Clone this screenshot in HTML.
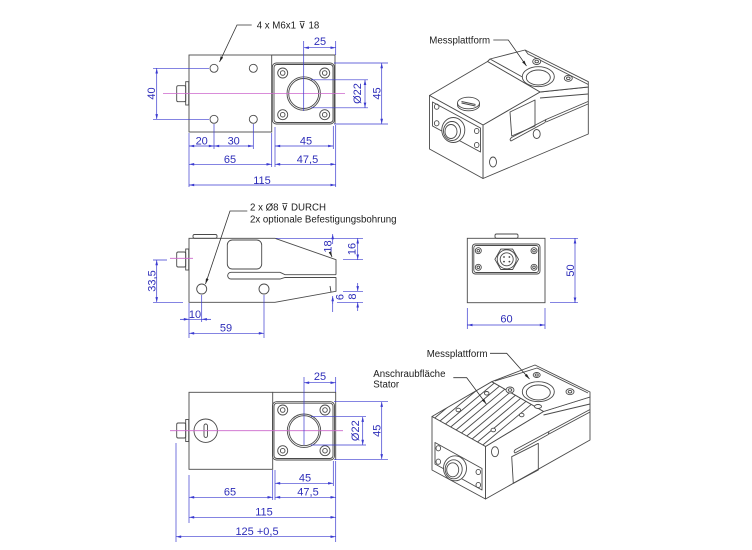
<!DOCTYPE html>
<html><head><meta charset="utf-8"><style>
html,body{margin:0;padding:0;background:#fff}
svg{display:block}
.b{stroke:#4a4a4a;stroke-width:.9;fill:none}
.bf{stroke:#4a4a4a;stroke-width:.9;fill:#fff}
.d{stroke:#3a3ad0;stroke-width:.7;fill:none}
.c{stroke:#cc66cc;stroke-width:.8;fill:none}
.t{font-family:"Liberation Sans",sans-serif;font-size:11px;fill:#2d2db8;text-anchor:middle}
.l{font-family:"Liberation Sans","DejaVu Sans",sans-serif;font-size:9.7px;fill:#1c1c1c}
.k{stroke:#333;stroke-width:.8;fill:none}
</style></head><body>
<svg width="752" height="550" viewBox="0 0 752 550" xmlns="http://www.w3.org/2000/svg">
<defs>
<marker id="ab" viewBox="0 0 8 4" refX="8" refY="2" markerWidth="6" markerHeight="2.6" markerUnits="userSpaceOnUse" orient="auto-start-reverse"><path d="M0,0L8,2L0,4z" fill="#3a3ad0"/></marker>
<marker id="ak" viewBox="0 0 8 4" refX="8" refY="2" markerWidth="6" markerHeight="2.8" markerUnits="userSpaceOnUse" orient="auto"><path d="M0,0L8,2L0,4z" fill="#222"/></marker>
<clipPath id="hc"><polygon points="432,416.5 491.7,381.7 543.5,411.5 485.5,446.5"/></clipPath>
</defs>

<!-- ===== VIEW 1 (top) ===== -->
<g class="b">
<rect x="189" y="55" width="82.7" height="77"/>
<path d="M271.7,55H335V124"/>
<rect x="272.3" y="63" width="62" height="61" rx="4"/>
<rect x="274" y="64.5" width="59" height="58" rx="3"/>
<rect x="176.7" y="85.7" width="9" height="16" rx="1.5"/>
<rect x="185.7" y="81.7" width="3" height="23.3"/>
<circle cx="214" cy="68.3" r="4"/><circle cx="253.3" cy="68.3" r="4"/>
<circle cx="214" cy="119.3" r="4"/><circle cx="253.3" cy="119.3" r="4"/>
<circle cx="282.7" cy="73" r="5"/><circle cx="282.7" cy="73" r="2.3"/>
<circle cx="324.7" cy="73" r="5"/><circle cx="324.7" cy="73" r="2.3"/>
<circle cx="282.7" cy="114.7" r="5"/><circle cx="282.7" cy="114.7" r="2.3"/>
<circle cx="324.7" cy="114.7" r="5"/><circle cx="324.7" cy="114.7" r="2.3"/>
<circle cx="303.7" cy="93.5" r="16.7"/><circle cx="303.7" cy="93.5" r="15"/>
</g>
<path class="c" d="M163,93.5H345"/>
<g class="d">
<path d="M153,68.3H209M153,119.3H209"/>
<path d="M156.7,68.3V119.3" marker-start="url(#ab)" marker-end="url(#ab)"/>
<path d="M303.7,41V111M335.7,41V55"/>
<path d="M303.7,47.7H335.7" marker-start="url(#ab)" marker-end="url(#ab)"/>
<path d="M311,79.8H368M311,107.8H368"/>
<path d="M365,79.8V107.8" marker-start="url(#ab)" marker-end="url(#ab)"/>
<path d="M334,63H388M334,124H388"/>
<path d="M381.7,63V124" marker-start="url(#ab)" marker-end="url(#ab)"/>
<path d="M189,133V187M214,124V149M253.3,124V149M271.7,133V167M275,127V167M333.3,126V149M335.7,125V187"/>
<path d="M189,146H214" marker-start="url(#ab)" marker-end="url(#ab)"/>
<path d="M214,146H253.3" marker-start="url(#ab)" marker-end="url(#ab)"/>
<path d="M275,146H333.3" marker-start="url(#ab)" marker-end="url(#ab)"/>
<path d="M189,164.3H271.7" marker-start="url(#ab)" marker-end="url(#ab)"/>
<path d="M275,164.3H335.7" marker-start="url(#ab)" marker-end="url(#ab)"/>
<path d="M189,185H335.7" marker-start="url(#ab)" marker-end="url(#ab)"/>
</g>
<g class="t">
<text transform="translate(151,93.5) rotate(-90)" dy="4">40</text>
<text x="320" y="45">25</text>
<text transform="translate(357,93.5) rotate(-90)" dy="4">Ø22</text>
<text transform="translate(376.5,93.5) rotate(-90)" dy="4">45</text>
<text x="201.7" y="144.5">20</text>
<text x="233.7" y="144.5">30</text>
<text x="306" y="144.5">45</text>
<text x="230" y="163">65</text>
<text x="307.5" y="163">47,5</text>
<text x="262" y="184">115</text>
</g>
<path class="k" d="M251.7,25H237L219.5,62" marker-end="url(#ak)"/>
<text class="l" x="256.7" y="28.5">4 x M6x1 ⊽ 18</text>

<!-- ===== VIEW 2 (side) ===== -->
<g class="b">
<path d="M275,302.3H189V238.3H275L336,259.7V274.7M336,277.3V291.3L275,302.3"/>
<path d="M280,272.3H231A3.35,3.35 0 0 0 231,279H280L285,277.5H336M280,272.3L285,274.7H336"/>
<rect x="227.3" y="240" width="34.4" height="29" rx="5"/>
<rect x="193" y="234.5" width="24" height="3.8" rx="1.5"/>
<rect x="176.7" y="252" width="9" height="15" rx="1.5"/>
<rect x="185.7" y="249" width="3" height="21"/>
<circle cx="201.7" cy="289" r="5"/><circle cx="264" cy="289" r="5"/>
</g>
<path class="c" d="M170,258.3H193"/>
<g class="d">
<path d="M153,260H167M153,302.3H183"/>
<path d="M156.7,260V302.3" marker-start="url(#ab)" marker-end="url(#ab)"/>
<path d="M201.7,295V322M189,303V338M264,295V338"/>
<path d="M180,319.3H211"/>
<path d="M180,319.3H189" marker-end="url(#ab)"/>
<path d="M211,319.3H201.7" marker-end="url(#ab)"/>
<path d="M189,333.3H264" marker-start="url(#ab)" marker-end="url(#ab)"/>
<path d="M276,238.3H363M343,259.7H363"/>
<path d="M357.7,238.3V259.7" marker-start="url(#ab)" marker-end="url(#ab)"/>
<path d="M332.7,244V234" marker-end="url(#ab)"/>
<path d="M343,291.3H363M337,302.3H363"/>
<path d="M357.7,283V291.3" marker-end="url(#ab)"/>
<path d="M357.7,311V302.3" marker-end="url(#ab)"/>
<path d="M332.7,298V312"/>
<path d="M332.7,304V296" marker-end="url(#ab)"/>
</g>
<path class="k" d="M330,252L332,257" marker-end="url(#ak)"/>
<path class="k" d="M330,286L331,292" />
<g class="t">
<text transform="translate(151.5,281) rotate(-90)" dy="4">33,5</text>
<text x="195" y="318">10</text>
<text x="226" y="331.5">59</text>
<text transform="translate(351.5,249) rotate(-90)" dy="4">16</text>
<text transform="translate(327.5,246.5) rotate(-90)" dy="4">18</text>
<text transform="translate(352,296.5) rotate(-90)" dy="4">8</text>
<text transform="translate(339.5,297) rotate(-90)" dy="4">6</text>
</g>
<path class="k" d="M247.3,211H230L205.5,284" marker-end="url(#ak)"/>
<text class="l" x="250" y="210.5">2 x Ø8 ⊽ DURCH</text>
<text class="l" x="250" y="222.5">2x optionale Befestigungsbohrung</text>

<!-- ===== VIEW 3 (end) ===== -->
<g class="b">
<rect x="467.3" y="238.3" width="77.7" height="64.4"/>
<rect x="495" y="234" width="23" height="4.3" rx="1.5"/>
<rect x="472.3" y="244" width="67.7" height="30" rx="3"/>
<rect x="473.8" y="245.5" width="64.7" height="27" rx="2.5"/>
<circle cx="478.3" cy="250.7" r="3"/><circle cx="478.3" cy="250.7" r="1.3"/>
<circle cx="534" cy="250.7" r="3"/><circle cx="534" cy="250.7" r="1.3"/>
<circle cx="478.3" cy="267.3" r="3"/><circle cx="478.3" cy="267.3" r="1.3"/>
<circle cx="534" cy="267.3" r="3"/><circle cx="534" cy="267.3" r="1.3"/>
<polygon points="518.5,259.3 512.6,269.5 500.8,269.5 494.9,259.3 500.8,249.1 512.6,249.1"/>
<circle cx="506.7" cy="259.3" r="9.5"/><circle cx="506.7" cy="259.3" r="6.5"/>
</g>
<g fill="#444"><circle cx="504" cy="257" r=".9"/><circle cx="509.4" cy="257" r=".9"/><circle cx="504" cy="261.6" r=".9"/><circle cx="509.4" cy="261.6" r=".9"/></g>
<g class="d">
<path d="M550,238.3H578M550,302.7H578"/>
<path d="M575,238.3V302.7" marker-start="url(#ab)" marker-end="url(#ab)"/>
<path d="M467.3,308V329M545,308V329"/>
<path d="M467.3,325H545" marker-start="url(#ab)" marker-end="url(#ab)"/>
</g>
<g class="t">
<text transform="translate(570,270.5) rotate(-90)" dy="4">50</text>
<text x="506.5" y="322.5">60</text>
</g>

<!-- ===== VIEW 4 (bottom) ===== -->
<g class="b">
<rect x="189" y="392.3" width="83.7" height="77"/>
<path d="M272.7,392.3H335.7V460"/>
<rect x="272.5" y="401.7" width="62" height="58.3" rx="4"/>
<rect x="274" y="403.2" width="59" height="55.3" rx="3"/>
<rect x="176.7" y="423" width="9" height="15" rx="1.5"/>
<rect x="185.7" y="419.5" width="3" height="22"/>
<circle cx="205.7" cy="430.7" r="11.7"/>
<rect x="204" y="424" width="3.5" height="13.4" rx="1.75"/>
<circle cx="282.7" cy="410" r="5"/><circle cx="282.7" cy="410" r="2.3"/>
<circle cx="325" cy="410" r="5"/><circle cx="325" cy="410" r="2.3"/>
<circle cx="282.7" cy="450.7" r="5"/><circle cx="282.7" cy="450.7" r="2.3"/>
<circle cx="325" cy="450.7" r="5"/><circle cx="325" cy="450.7" r="2.3"/>
<circle cx="304" cy="430.7" r="16.7"/><circle cx="304" cy="430.7" r="15"/>
</g>
<path class="c" d="M170,430.7H343"/>
<g class="d">
<path d="M304,377V445M335.7,377V392"/>
<path d="M304,382.7H335.7" marker-start="url(#ab)" marker-end="url(#ab)"/>
<path d="M311,416.7H366M311,445H366"/>
<path d="M362.7,416.7V445" marker-start="url(#ab)" marker-end="url(#ab)"/>
<path d="M334,401.7H388M334,459.3H388"/>
<path d="M381.7,401.7V459.3" marker-start="url(#ab)" marker-end="url(#ab)"/>
<path d="M189,475V523M176,443V542M272.7,470V500M275,470V500M333.3,461V486M335.7,461V542"/>
<path d="M275,483.3H333.3" marker-start="url(#ab)" marker-end="url(#ab)"/>
<path d="M189,497.3H272.7" marker-start="url(#ab)" marker-end="url(#ab)"/>
<path d="M275,497.3H335.7" marker-start="url(#ab)" marker-end="url(#ab)"/>
<path d="M189,517.3H335.7" marker-start="url(#ab)" marker-end="url(#ab)"/>
<path d="M176,536.7H335.7" marker-start="url(#ab)" marker-end="url(#ab)"/>
</g>
<g class="t">
<text x="320" y="380">25</text>
<text transform="translate(355,430.7) rotate(-90)" dy="4">Ø22</text>
<text transform="translate(376.5,430.7) rotate(-90)" dy="4">45</text>
<text x="305" y="481.5">45</text>
<text x="230" y="495.5">65</text>
<text x="308" y="495.5">47,5</text>
<text x="264" y="515.5">115</text>
<text x="257" y="535">125 +0,5</text>
</g>

<!-- ===== 3D top-right ===== -->
<g class="bf" stroke-linejoin="round">
<polygon points="483,125 540,92 588.3,87 588.3,134 483,178.5"/>
<polygon points="487.5,61.5 490,59 525,50 588.3,81.7 588.3,87 540,92"/>
<polygon points="429.5,95.5 487.5,61.5 540,92 483,125"/>
<polygon points="429.5,95.5 483,125 483,178.5 429.5,149"/>
</g>
<g class="b" stroke-linejoin="round">
<path d="M490,59L535,84M525,50L528,54L588.3,84.5"/>
<ellipse cx="538.3" cy="76.7" rx="16" ry="10" fill="#fff"/>
<ellipse cx="538.3" cy="77.5" rx="12" ry="7.5"/>
<ellipse cx="536.7" cy="61.5" rx="4" ry="3" fill="#fff"/><ellipse cx="536.7" cy="61.5" rx="1.8" ry="1.3"/>
<ellipse cx="568.3" cy="78.3" rx="4" ry="3" fill="#fff"/><ellipse cx="568.3" cy="78.3" rx="1.8" ry="1.3"/>
<path d="M540,98L588,94"/>
<path d="M511,141L545,122.5L546,119.5L511.5,137.5Q509,139.5 511,141Z"/>
<path d="M546,122L588,104M546,119.5L588,101.5"/>
<path d="M510,112L535,100L535,126L511.7,136Z"/>
<ellipse cx="536.7" cy="134" rx="3.5" ry="4.5"/>
<ellipse cx="493" cy="162" rx="3.5" ry="5"/>
<path d="M457.5,103v2a11,5.8 0 0 0 22,0v-2"/>
<ellipse cx="468.5" cy="103" rx="11" ry="5.8" fill="#fff"/>
<path d="M461.5,101.5L475.5,104.5M461.5,103L475.5,106"/>
<path d="M432.5,102L480.5,128L480.5,152L432.5,126Z"/>
<ellipse cx="436.7" cy="106.7" rx="2.3" ry="2.6"/><ellipse cx="436.7" cy="123.3" rx="2.3" ry="2.6"/>
<ellipse cx="476.7" cy="131" rx="2.3" ry="2.6"/><ellipse cx="476.7" cy="145" rx="2.3" ry="2.6"/>
<ellipse cx="453.3" cy="130" rx="11.5" ry="12.5" fill="#fff"/>
<ellipse cx="452" cy="131" rx="8.5" ry="9.5"/>
<ellipse cx="451" cy="131.5" rx="6" ry="7"/>
</g>
<path class="k" d="M493.3,40H508.3L526.5,66" marker-end="url(#ak)"/>
<text class="l" x="429.3" y="43.5">Messplattform</text>

<!-- ===== 3D bottom-right ===== -->
<g class="bf" stroke-linejoin="round">
<polygon points="485.5,446.5 543.5,411.5 590,397 590,440 485.5,499"/>
<polygon points="491.7,381.7 535,365 590,392 590,397 543.5,411.5"/>
<polygon points="432,416.5 491.7,381.7 543.5,411.5 485.5,446.5"/>
<polygon points="432,416.5 485.5,446.5 485.5,499 432,470"/>
</g>
<g class="b" clip-path="url(#hc)">
<path d="M434.7,418l70,-58.6M440,421l70,-58.6M445.4,424l70,-58.6M450.7,427l70,-58.6M456.1,430l70,-58.6M461.4,433l70,-58.6M466.8,436l70,-58.6M472.1,439l70,-58.6M477.5,442l70,-58.6M482.8,445l70,-58.6"/>
</g>
<g class="b" stroke-linejoin="round">
<ellipse cx="458.3" cy="410" rx="2.3" ry="1.8" fill="#fff"/>
<ellipse cx="486.7" cy="393.3" rx="2.3" ry="1.8" fill="#fff"/>
<ellipse cx="493.3" cy="430" rx="2.3" ry="1.8" fill="#fff"/>
<ellipse cx="521.7" cy="415" rx="2.3" ry="1.8" fill="#fff"/>
<path d="M495,381L537,368L588,393"/>
<ellipse cx="538.3" cy="391.7" rx="16" ry="10" fill="#fff"/>
<ellipse cx="538.3" cy="392.5" rx="12" ry="7.5"/>
<ellipse cx="536.7" cy="375" rx="3.5" ry="2.5" fill="#fff"/><ellipse cx="536.7" cy="375" rx="1.6" ry="1.1"/>
<ellipse cx="570" cy="391.7" rx="4" ry="3" fill="#fff"/><ellipse cx="570" cy="391.7" rx="1.8" ry="1.3"/>
<ellipse cx="510" cy="390" rx="4" ry="3" fill="#fff"/><ellipse cx="510" cy="390" rx="1.8" ry="1.3"/>
<ellipse cx="538" cy="406.5" rx="3.5" ry="2" fill="#fff"/>
<path d="M543.5,415L590,404"/>
<ellipse cx="495" cy="451.7" rx="3.5" ry="5"/>
<path d="M515,453L548.3,434.5L549,431.5L515.5,449.5Q513,451.5 515,453Z"/>
<path d="M549,434L590,412M549,431.5L590,409.5"/>
<path d="M511.7,456.7L538.3,443.3L538.3,470L513.3,483.3Z"/>
<path d="M435,442.5L482,468.5L482,490L435,464Z"/>
<ellipse cx="438.3" cy="448.3" rx="2.3" ry="2.6"/><ellipse cx="438.3" cy="461.7" rx="2.3" ry="2.6"/>
<ellipse cx="478.3" cy="472" rx="2.3" ry="2.6"/><ellipse cx="478.3" cy="485" rx="2.3" ry="2.6"/>
<ellipse cx="455" cy="468.3" rx="11.5" ry="12.5" fill="#fff"/>
<ellipse cx="453.7" cy="469.3" rx="8.5" ry="9.5"/>
<ellipse cx="452.7" cy="469.8" rx="6" ry="7"/>
</g>
<path class="k" d="M490,353.3H506.7L529.5,379" marker-end="url(#ak)"/>
<text class="l" x="426.7" y="357">Messplattform</text>
<path class="k" d="M453.3,377.7H466.7L486.3,404" marker-end="url(#ak)"/>
<text class="l" x="373.3" y="377">Anschraubfläche</text>
<text class="l" x="373.3" y="387.5">Stator</text>
</svg>
</body></html>
